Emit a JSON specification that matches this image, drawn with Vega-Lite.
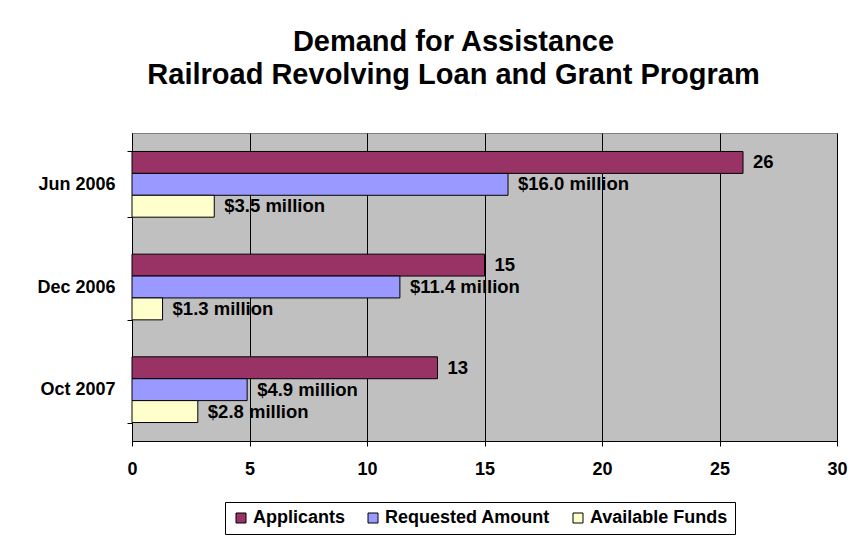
{
  "$schema": "https://vega.github.io/schema/vega-lite/v6.json",
  "width": 705,
  "height": 308,
  "autosize": {"type": "none"},
  "padding": {"left": 132, "top": 133, "right": 23, "bottom": 100},
  "background": "white",
  "title": {
    "text": ["Demand for Assistance", "Railroad Revolving Loan and Grant Program"],
    "font": "Liberation Sans",
    "fontSize": 29,
    "fontWeight": "bold",
    "color": "black",
    "anchor": "middle",
    "frame": "group",
    "dx": -31,
    "offset": 34,
    "lineHeight": 33
  },
  "data": {
    "values": [
      {"date": "Jun 2006", "series": "Applicants", "value": 26, "label": "26"},
      {"date": "Jun 2006", "series": "Requested Amount", "value": 16.0, "label": "$16.0 million"},
      {"date": "Jun 2006", "series": "Available Funds", "value": 3.5, "label": "$3.5 million"},
      {"date": "Dec 2006", "series": "Applicants", "value": 15, "label": "15"},
      {"date": "Dec 2006", "series": "Requested Amount", "value": 11.4, "label": "$11.4 million"},
      {"date": "Dec 2006", "series": "Available Funds", "value": 1.3, "label": "$1.3 million"},
      {"date": "Oct 2007", "series": "Applicants", "value": 13, "label": "13"},
      {"date": "Oct 2007", "series": "Requested Amount", "value": 4.9, "label": "$4.9 million"},
      {"date": "Oct 2007", "series": "Available Funds", "value": 2.8, "label": "$2.8 million"}
    ]
  },
  "encoding": {
    "y": {
      "field": "date",
      "type": "nominal",
      "sort": ["Jun 2006", "Dec 2006", "Oct 2007"],
      "scale": {"paddingInner": 0.36, "paddingOuter": 0.18},
      "axis": {
        "title": null,
        "tickBand": "extent",
        "grid": false,
        "domainColor": "black",
        "tickColor": "black",
        "tickSize": 5,
        "labelPadding": 12,
        "labelFont": "Liberation Sans",
        "labelFontSize": 18,
        "labelFontWeight": "bold",
        "labelColor": "black"
      }
    },
    "yOffset": {
      "field": "series",
      "type": "nominal",
      "sort": ["Applicants", "Requested Amount", "Available Funds"],
      "scale": {"paddingInner": 0, "paddingOuter": 0}
    },
    "x": {
      "field": "value",
      "type": "quantitative",
      "scale": {"domain": [0, 30], "nice": false},
      "axis": {
        "title": null,
        "values": [0, 5, 10, 15, 20, 25, 30],
        "grid": true,
        "gridColor": "black",
        "gridOpacity": 1,
        "gridWidth": 1,
        "domainColor": "black",
        "tickColor": "black",
        "tickSize": 5,
        "labelPadding": 14,
        "labelFont": "Liberation Sans",
        "labelFontSize": 18,
        "labelFontWeight": "bold",
        "labelColor": "black",
        "labelFlush": false
      }
    }
  },
  "layer": [
    {
      "mark": {"type": "bar", "stroke": "black", "strokeWidth": 1},
      "encoding": {
        "color": {
          "field": "series",
          "type": "nominal",
          "scale": {
            "domain": ["Applicants", "Requested Amount", "Available Funds"],
            "range": ["#993366", "#9999FF", "#FFFFCC"]
          },
          "legend": {
            "title": null,
            "orient": "none",
            "legendX": 93,
            "legendY": 369,
            "direction": "horizontal",
            "symbolType": "square",
            "symbolSize": 100,
            "symbolStrokeColor": "black",
            "symbolStrokeWidth": 1,
            "labelFont": "Liberation Sans",
            "labelFontSize": 18,
            "labelFontWeight": "bold",
            "labelColor": "black",
            "labelLimit": 400,
            "labelOffset": 3,
            "columnPadding": 18,
            "strokeColor": "black",
            "padding": 7
          }
        }
      }
    },
    {
      "mark": {
        "type": "text",
        "align": "left",
        "baseline": "middle",
        "dx": 10,
        "font": "Liberation Sans",
        "fontSize": 18.5,
        "fontWeight": "bold",
        "color": "black"
      },
      "encoding": {
        "text": {"field": "label", "type": "nominal"}
      }
    }
  ],
  "config": {
    "view": {"fill": "#C0C0C0", "stroke": "#808080", "strokeWidth": 1}
  }
}
